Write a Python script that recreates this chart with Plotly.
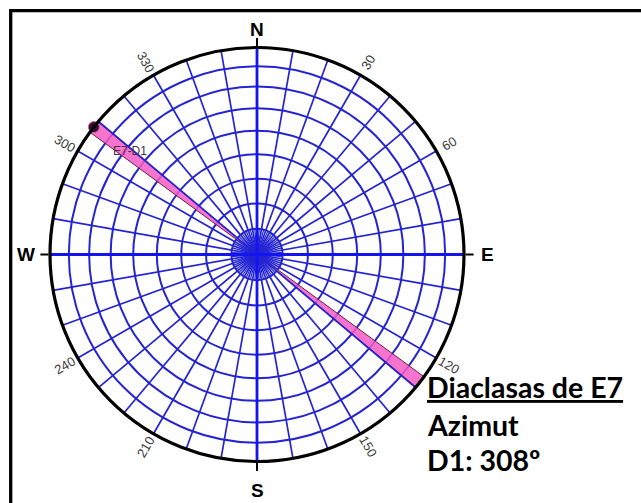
import math
import plotly.graph_objects as go

# ---- data ----
ring_r = [0.124, 0.246, 0.366, 0.484, 0.598, 0.707, 0.811, 0.909, 1.0]
spoke_angles = [a for a in range(0, 360, 10) if a % 90 != 0]
inner_spoke_angles = list(range(5, 360, 10))
cardinal_angles = [0, 90, 180, 270]
cardinal_labels = ["N", "E", "S", "W"]
number_angles = [30, 60, 120, 150, 210, 240, 300, 330]
number_labels = ["30", "60", "120", "150", "210", "240", "300", "330"]
joint_names = ["E7-D1"]
joint_azimuth = [308]
joint_width_deg = 3.6
info_lines = ["Diaclasas de E7", "Azimut", "D1: 308º"]

W, H = 641, 503
CX, CY, R = 257, 254.5, 207
CARD_OFFSET = {"N": 225, "E": 230, "S": 236, "W": 231}

BLUE = "#2424d4"

fig = go.Figure()

def spokes(angles, r_end):
    rr, tt = [], []
    for a in angles:
        rr += [0, r_end, None]
        tt += [a, a, None]
    return rr, tt

rr, tt = spokes(inner_spoke_angles, ring_r[0])
fig.add_trace(go.Scatterpolar(r=rr, theta=tt, mode="lines",
                              line=dict(color=BLUE, width=1.2), hoverinfo="skip"))
rr, tt = spokes(spoke_angles, ring_r[-1])
fig.add_trace(go.Scatterpolar(r=rr, theta=tt, mode="lines",
                              line=dict(color=BLUE, width=1.7), hoverinfo="skip"))
rr, tt = spokes(cardinal_angles, ring_r[-1])
fig.add_trace(go.Scatterpolar(r=rr, theta=tt, mode="lines",
                              line=dict(color="#1414f0", width=2.8), hoverinfo="skip"))

# joint petals (both directions of the strike)
thetas = []
for az in joint_azimuth:
    thetas += [az, (az + 180) % 360]
fig.add_trace(go.Barpolar(r=[ring_r[-1]] * len(thetas), theta=thetas,
                          width=[joint_width_deg] * len(thetas),
                          marker=dict(color="rgba(244,92,198,0.85)",
                                      line=dict(color="#6a1f4a", width=1)),
                          hoverinfo="skip"))
fig.add_trace(go.Scatterpolar(r=[ring_r[-1]] * len(joint_azimuth), theta=joint_azimuth,
                              mode="markers", cliponaxis=False,
                              marker=dict(size=11, color="#3d0b2e",
                                          line=dict(color="#c868a8", width=1)),
                              hoverinfo="skip"))
fig.add_trace(go.Scatterpolar(r=[0.79] * len(joint_azimuth), theta=[a + 1 for a in joint_azimuth],
                              mode="text", text=joint_names, cliponaxis=False,
                              textfont=dict(family="Arial", size=12, color="#4b3040"),
                              hoverinfo="skip"))

fig.update_layout(
    width=W, height=H, margin=dict(l=0, r=0, t=0, b=0),
    paper_bgcolor="white", plot_bgcolor="white", showlegend=False,
    polar=dict(
        domain=dict(x=[(CX - R) / W, (CX + R) / W],
                    y=[(H - CY - R) / H, (H - CY + R) / H]),
        bgcolor="white",
        barmode="overlay",
        angularaxis=dict(rotation=90, direction="clockwise",
                         tickmode="array", tickvals=cardinal_angles,
                         showticklabels=False,
                         ticks="outside", ticklen=8, tickwidth=2, tickcolor="black",
                         showgrid=False, showline=True, linecolor="black", linewidth=3.2),
        radialaxis=dict(range=[0, 1], tickmode="array", tickvals=ring_r,
                        showticklabels=False, ticks="", showline=False,
                        gridcolor=BLUE, gridwidth=1.7),
    ),
)

def pos(a, rad):
    x = CX + rad * math.sin(math.radians(a))
    y = CY - rad * math.cos(math.radians(a))
    return x / W, 1 - y / H

# cardinal letters
for a, lab in zip(cardinal_angles, cardinal_labels):
    x, y = pos(a, CARD_OFFSET[lab])
    fig.add_annotation(x=x, y=y, xref="paper", yref="paper",
                       text="<b>%s</b>" % lab, showarrow=False,
                       font=dict(family="Arial", size=19, color="black"),
                       xanchor="center", yanchor="middle")

# rotated azimuth numbers
for a, lab in zip(number_angles, number_labels):
    x, y = pos(a, 222)
    ang = a - 90
    while ang > 90:
        ang -= 180
    while ang <= -90:
        ang += 180
    fig.add_annotation(x=x, y=y, xref="paper", yref="paper",
                       text=lab, showarrow=False, textangle=ang,
                       font=dict(family="Arial", size=13, color="#3a3a3a"),
                       xanchor="center", yanchor="middle")

# info text
info_y = [387, 425, 460]
for i, (txt, yy) in enumerate(zip(info_lines, info_y)):
    t = "<u>%s</u>" % txt if i == 0 else txt
    fig.add_annotation(x=425 / W, y=1 - yy / H, xref="paper", yref="paper",
                       text="<b>%s</b>" % t, showarrow=False,
                       font=dict(family="Lato", size=28.5, color="black"),
                       xanchor="left", yanchor="middle")

# frame
fig.add_shape(type="rect", xref="paper", yref="paper",
              x0=10.7 / W, x1=1.05, y0=-0.05, y1=1 - 10.7 / H,
              line=dict(color="black", width=3.3), fillcolor="rgba(0,0,0,0)")

fig.write_html("out.html")
